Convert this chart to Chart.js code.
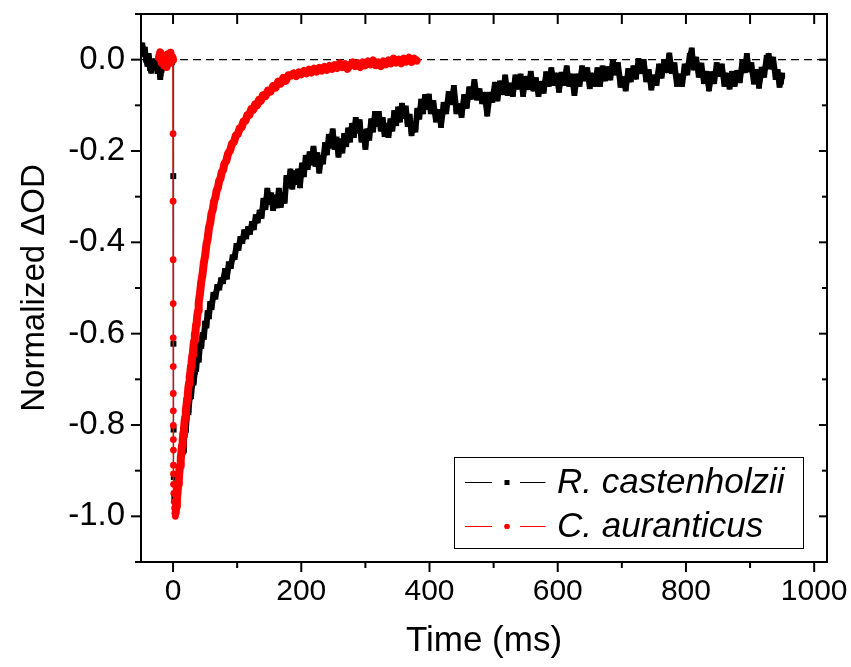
<!DOCTYPE html>
<html><head><meta charset="utf-8">
<script src="https://cdn.jsdelivr.net/npm/chart.js@4.4.1/dist/chart.umd.min.js"></script>
<style>html,body{margin:0;padding:0;background:#fff;}canvas{display:block;}</style>
</head><body>
<canvas id="c" width="851" height="667"></canvas>
<script>
// ---- data ----
const seriesNames = ['R. castenholzii', 'C. auranticus'];
const xTitle = 'Time (ms)';
const yTitle = 'Normalized \u0394OD';
const xRange = [-50, 1020];
const yRange = [-1.1, 0.1];
const xMajorTicks = [0, 200, 400, 600, 800, 1000];
const xTickLabels = ['0', '200', '400', '600', '800', '1000'];
const xMinorTicks = [100, 300, 500, 700, 900];
const yMajorTicks = [0, -0.2, -0.4, -0.6, -0.8, -1.0];
const yTickLabels = ['0.0', '-0.2', '-0.4', '-0.6', '-0.8', '-1.0'];
const yMinorTicks = [0.1, -0.1, -0.3, -0.5, -0.7, -0.9, -1.1];
const baselineValue = 0;
const flashWindow = [0, 4]; // ms: fast drop after the flash, drawn with thin line

// R. castenholzii [time ms, normalized dOD]
const castPoints = [
[-50,0.018],[-48,0.031],[-46,0.012],[-44,0.022],[-42,0.0],[-40,-0.009],[-38,0.008],[-36,-0.018],[-34,-0.024],[-32,-0.008],
[-30,-0.004],[-28,-0.016],[-26,-0.01],[-24,-0.025],[-22,-0.012],[-20,-0.038],[-18,-0.022],[-16,-0.014],[-14,-0.005],[-12,0.004],
[-10,-0.01],[-8,0.006],[-6,-0.004],[-4,0.008],[-2,-0.006],[0,0.0],[0.3,-0.255],[0.6,-0.622],[0.9,-0.81],[1.2,-0.914],
[2,-0.96],[3,-0.985],[4,-0.972],
[5,-0.948],[6,-0.942],[7,-0.923],[8,-0.922],[9,-0.893],[10,-0.912],[11,-0.878],[12,-0.877],[13,-0.868],[14,-0.862],
[15,-0.838],[16,-0.857],[17,-0.823],[18,-0.822],[19,-0.813],[20,-0.807],[22,-0.773],[24,-0.772],[26,-0.738],[28,-0.737],
[30,-0.708],[32,-0.707],[34,-0.683],[36,-0.677],[38,-0.648],[40,-0.657],[42,-0.625],[44,-0.627],[46,-0.603],[48,-0.607],
[50,-0.578],[52,-0.582],[54,-0.555],[56,-0.562],[58,-0.535],[60,-0.542],[63,-0.515],[66,-0.519],[69,-0.498],[72,-0.499],
[75,-0.483],[78,-0.485],[81,-0.463],[84,-0.475],[87,-0.448],[90,-0.452],[93,-0.433],[96,-0.432],[99,-0.408],[102,-0.412],
[105,-0.393],[108,-0.397],[111,-0.378],[114,-0.387],[117,-0.371],[120,-0.377],[123,-0.36],[126,-0.367],[129,-0.345],[132,-0.352],
[135,-0.335],[138,-0.342],[141,-0.309],[144,-0.323],[147,-0.287],[150,-0.311],[153,-0.297],[156,-0.325],[159,-0.302],[162,-0.319],
[165,-0.287],[168,-0.318],[171,-0.297],[174,-0.309],[177,-0.259],[180,-0.275],[183,-0.245],[186,-0.278],[189,-0.249],[192,-0.268],
[195,-0.245],[198,-0.275],[201,-0.232],[204,-0.251],[207,-0.215],[210,-0.235],[213,-0.207],[216,-0.225],[219,-0.195],[222,-0.228],
[225,-0.209],[228,-0.243],[231,-0.215],[234,-0.223],[237,-0.187],[240,-0.203],[243,-0.169],[246,-0.188],[249,-0.157],[252,-0.191],
[255,-0.175],[258,-0.208],[261,-0.179],[264,-0.199],[267,-0.167],[270,-0.185],[273,-0.155],[276,-0.175],[279,-0.145],[282,-0.165],
[285,-0.132],[288,-0.155],[291,-0.137],[294,-0.175],[297,-0.159],[300,-0.191],[303,-0.157],[306,-0.171],[309,-0.135],[312,-0.153],
[315,-0.119],[318,-0.141],[321,-0.119],[324,-0.151],[327,-0.132],[330,-0.163],[333,-0.145],[336,-0.165],[339,-0.135],[342,-0.151],
[345,-0.117],[348,-0.139],[351,-0.109],[354,-0.131],[357,-0.101],[360,-0.123],[363,-0.107],[366,-0.141],[369,-0.125],[372,-0.161],
[375,-0.142],[378,-0.153],[381,-0.112],[384,-0.125],[387,-0.092],[390,-0.113],[393,-0.082],[396,-0.103],[399,-0.081],[402,-0.113],
[406,-0.095],[410,-0.131],[414,-0.115],[418,-0.143],[422,-0.099],[426,-0.113],[430,-0.075],[434,-0.093],[438,-0.062],[442,-0.113],
[446,-0.102],[450,-0.121],[454,-0.082],[458,-0.101],[462,-0.065],[466,-0.081],[470,-0.049],[474,-0.083],[478,-0.069],[482,-0.091],
[486,-0.077],[490,-0.118],[494,-0.077],[498,-0.088],[502,-0.055],[506,-0.085],[510,-0.052],[514,-0.071],[518,-0.039],[522,-0.073],
[526,-0.057],[530,-0.075],[534,-0.039],[538,-0.059],[542,-0.037],[546,-0.075],[550,-0.042],[554,-0.06],[558,-0.031],[562,-0.063],
[566,-0.045],[570,-0.075],[574,-0.053],[578,-0.068],[582,-0.032],[586,-0.053],[590,-0.023],[594,-0.051],[598,-0.035],[602,-0.066],
[606,-0.033],[610,-0.051],[614,-0.019],[618,-0.053],[622,-0.037],[626,-0.073],[630,-0.037],[634,-0.053],[638,-0.019],[642,-0.041],
[646,-0.023],[650,-0.058],[654,-0.035],[658,-0.053],[662,-0.023],[666,-0.053],[670,-0.019],[674,-0.041],[678,-0.021],[682,-0.039],
[686,-0.005],[690,-0.028],[694,-0.012],[698,-0.055],[702,-0.043],[706,-0.063],[710,-0.025],[714,-0.043],[718,-0.019],[722,-0.037],
[726,-0.003],[730,-0.025],[734,-0.005],[738,-0.043],[742,-0.027],[746,-0.061],[750,-0.039],[754,-0.051],[758,-0.015],[762,-0.035],
[766,-0.005],[770,-0.023],[774,0.009],[778,-0.025],[782,-0.012],[786,-0.053],[790,-0.037],[794,-0.053],[798,-0.015],[802,-0.028],
[806,0.008],[809,0.02],[812,-0.017],[816,0.0],[820,-0.033],[824,-0.013],[828,-0.047],[832,-0.031],[836,-0.063],[840,-0.032],
[844,-0.047],[848,-0.012],[852,-0.031],[856,-0.015],[860,-0.053],[864,-0.035],[868,-0.059],[872,-0.031],[876,-0.053],[880,-0.029],
[884,-0.045],[888,-0.007],[892,-0.023],[895,0.008],[898,-0.021],[902,-0.012],[906,-0.048],[910,-0.027],[914,-0.057],[918,-0.022],
[922,-0.033],[926,0.004],[929,0.008],[932,-0.015],[936,0.0],[940,-0.038],[943,-0.027],[946,-0.055],[948,-0.048],[950,-0.035]
];

// C. auranticus [time ms, normalized dOD]
const aurPoints = [
[-22,0.005],[-20,0.016],[-18,-0.006],[-16,0.01],[-14,-0.012],[-12,0.008],[-10,-0.016],[-8,0.012],[-6,-0.008],[-4,0.015],
[-2,-0.004],[-1,0.006],[0,0.0],[0.05,-0.162],[0.1,-0.31],[0.15,-0.438],[0.2,-0.534],[0.25,-0.609],[0.3,-0.672],[0.35,-0.731],
[0.4,-0.769],[0.45,-0.801],[0.5,-0.832],[0.55,-0.855],[0.6,-0.888],[0.7,-0.907],[0.8,-0.93],[1.2,-0.95],[1.8,-0.968],[2.4,-0.982],
[3,-0.993],[3.6,-1.0],[4.2,-0.992],
[5,-0.978],[6,-0.962],[7,-0.948],[8,-0.93],[9,-0.918],[10,-0.9],[11,-0.889],[12,-0.872],[13,-0.861],[14,-0.845],
[15,-0.834],[16,-0.818],[17,-0.808],[18,-0.792],[19,-0.783],[20,-0.766],[21,-0.757],[22,-0.742],[23,-0.733],[24,-0.717],
[25,-0.708],[26,-0.694],[27,-0.684],[28,-0.671],[29,-0.662],[30,-0.648],[31,-0.639],[32,-0.625],[33,-0.616],[34,-0.602],
[35,-0.594],[36,-0.58],[37,-0.572],[38,-0.558],[39,-0.55],[40,-0.532],[42,-0.512],[44,-0.486],[46,-0.47],[48,-0.445],
[50,-0.43],[52,-0.405],[54,-0.392],[56,-0.368],[58,-0.357],[60,-0.337],[62,-0.328],[64,-0.31],[66,-0.302],[68,-0.286],
[70,-0.28],[72,-0.265],[74,-0.26],[76,-0.246],[78,-0.242],[80,-0.228],[83,-0.222],[86,-0.205],[89,-0.199],[92,-0.184],
[95,-0.18],[98,-0.166],[101,-0.163],[104,-0.15],[107,-0.148],[110,-0.135],[113,-0.134],[116,-0.121],[119,-0.121],[122,-0.108],
[125,-0.11],[128,-0.098],[131,-0.1],[134,-0.088],[137,-0.09],[140,-0.078],[144,-0.08],[148,-0.068],[152,-0.07],[156,-0.058],
[160,-0.061],[164,-0.048],[168,-0.052],[172,-0.04],[176,-0.046],[180,-0.034],[184,-0.035],[188,-0.03],[192,-0.036],[196,-0.028],
[200,-0.032],[204,-0.025],[208,-0.03],[212,-0.022],[216,-0.028],[220,-0.02],[224,-0.026],[228,-0.018],[232,-0.024],[236,-0.016],
[240,-0.022],[244,-0.014],[248,-0.02],[252,-0.012],[256,-0.018],[260,-0.008],[264,-0.016],[268,-0.01],[272,-0.02],[276,-0.012],
[280,-0.006],[284,-0.014],[288,-0.008],[292,-0.016],[296,-0.006],[300,-0.012],[304,-0.004],[308,-0.01],[312,-0.002],[316,-0.012],
[320,-0.006],[324,-0.014],[328,-0.004],[332,-0.01],[336,-0.002],[340,-0.008],[344,0.002],[348,-0.006],[352,0.0],[356,-0.008],
[360,0.002],[364,-0.004],[368,0.004],[372,-0.005],[376,0.002],[380,-0.002]
];

// ---- rendering ----
const FONT = "'Liberation Sans', Arial, Helvetica, sans-serif";
const toXY = pts => pts.map(p => ({x: p[0], y: p[1]}));
// dense noisy traces: segments outside the fast flash drop are drawn as a heavy band
const bandWidth = w => ctx => {
  const x0 = ctx.p0.parsed.x, x1 = ctx.p1.parsed.x;
  return (x1 <= flashWindow[0] || x0 >= flashWindow[1]) ? w : 1.2;
};

const frameTicksPlugin = {
  id: 'frameTicks',
  afterDatasetsDraw(chart) {
    const ctx = chart.ctx, a = chart.chartArea;
    const xs = chart.scales.x, ys = chart.scales.y;
    ctx.save();
    ctx.strokeStyle = '#000';
    ctx.lineWidth = 2;
    ctx.lineCap = 'butt';
    const seg = (x1, y1, x2, y2) => { ctx.beginPath(); ctx.moveTo(x1, y1); ctx.lineTo(x2, y2); ctx.stroke(); };
    xMajorTicks.forEach(v => { const p = xs.getPixelForValue(v); seg(p, a.bottom, p, a.bottom + 10); seg(p, a.top, p, a.top + 10); });
    xMinorTicks.forEach(v => { const p = xs.getPixelForValue(v); seg(p, a.bottom, p, a.bottom + 6); seg(p, a.top, p, a.top + 10); });
    yMajorTicks.forEach(v => { const p = ys.getPixelForValue(v); seg(a.left, p, a.left - 10, p); seg(a.right, p, a.right - 8, p); });
    yMinorTicks.forEach(v => { const p = ys.getPixelForValue(v); seg(a.left, p, a.left - 6, p); seg(a.right, p, a.right - 5, p); });
    ctx.strokeRect(a.left, a.top, a.right - a.left, a.bottom - a.top);
    ctx.restore();
  },
  afterDraw(chart) {
    const ctx = chart.ctx;
    const box = {x: 454.5, y: 457.5, w: 349, h: 91};
    ctx.save();
    ctx.fillStyle = '#fff';
    ctx.fillRect(box.x, box.y, box.w, box.h);
    ctx.strokeStyle = '#000';
    ctx.lineWidth = 1;
    ctx.strokeRect(box.x, box.y, box.w, box.h);
    const rows = [482.5, 526.5];
    chart.data.datasets.filter(d => seriesNames.includes(d.label))
      .sort((p, q) => seriesNames.indexOf(p.label) - seriesNames.indexOf(q.label))
      .forEach((d, i) => {
        const y = rows[i];
        ctx.strokeStyle = d.borderColor;
        ctx.lineWidth = 1;
        ctx.beginPath(); ctx.moveTo(465, y); ctx.lineTo(492, y); ctx.stroke();
        ctx.beginPath(); ctx.moveTo(520, y); ctx.lineTo(545.5, y); ctx.stroke();
        ctx.fillStyle = d.backgroundColor;
        if (d.pointStyle === 'rect') {
          ctx.fillRect(507 - 2.5, y - 2.5, 5, 5);
        } else {
          ctx.beginPath(); ctx.arc(507, y, 2.8, 0, Math.PI * 2); ctx.fill();
        }
        ctx.fillStyle = '#000';
        ctx.font = "italic 35px " + FONT;
        ctx.textBaseline = 'middle';
        ctx.textAlign = 'left';
        ctx.fillText(d.label, 557, y + 1);
      });
    ctx.restore();
  }
};

new Chart(document.getElementById('c'), {
  type: 'scatter',
  data: {
    datasets: [
      {label: seriesNames[1], data: toXY(aurPoints), showLine: true, borderColor: '#ff0000', backgroundColor: '#ff0000',
       borderWidth: 1.2, borderJoinStyle: 'round', borderCapStyle: 'round', segment: {borderWidth: bandWidth(8)},
       pointStyle: 'circle', pointRadius: 3.4, pointBorderWidth: 0, pointHoverRadius: 0, order: 0},
      {label: seriesNames[0], data: toXY(castPoints), showLine: true, borderColor: '#000000', backgroundColor: '#000000',
       borderWidth: 1.2, borderJoinStyle: 'round', borderCapStyle: 'round', segment: {borderWidth: bandWidth(6)},
       pointStyle: 'rect', pointRadius: 4.2, pointBorderWidth: 0, pointHoverRadius: 0, order: 1},
      {label: 'baseline', data: [{x: xRange[0], y: baselineValue}, {x: xRange[1], y: baselineValue}], showLine: true,
       borderColor: '#000', borderWidth: 1.3, borderDash: [8, 5], pointRadius: 0, order: 2}
    ]
  },
  options: {
    responsive: false,
    animation: false,
    devicePixelRatio: 1,
    layout: {padding: {left: 0, top: 14, right: 24, bottom: 0}},
    plugins: {legend: {display: false}, tooltip: {enabled: false}},
    scales: {
      x: {
        type: 'linear', min: xRange[0], max: xRange[1],
        afterBuildTicks: s => { s.ticks = xMajorTicks.map(v => ({value: v})); },
        afterFit: s => { s.height = 105; s.paddingLeft = 0; s.paddingRight = 0; },
        grid: {display: false, drawTicks: false},
        border: {display: false},
        ticks: {color: '#000', font: {family: FONT, size: 30}, padding: 12, maxRotation: 0, autoSkip: false,
                callback: (v, i) => xTickLabels[i]},
        title: {display: true, text: xTitle, color: '#000', font: {family: FONT, size: 35}, padding: {top: 0, bottom: 5}}
      },
      y: {
        type: 'linear', min: yRange[0], max: yRange[1],
        afterBuildTicks: s => { s.ticks = yMajorTicks.map(v => ({value: v})); },
        afterFit: s => { s.width = 141; s.paddingTop = 0; s.paddingBottom = 0; },
        grid: {display: false, drawTicks: false},
        border: {display: false},
        ticks: {color: '#000', font: {family: FONT, size: 33}, padding: 16, autoSkip: false,
                callback: (v, i) => yTickLabels[i]},
        title: {display: true, text: yTitle, color: '#000', font: {family: FONT, size: 33}, padding: {top: 15, bottom: 0}}
      }
    }
  },
  plugins: [frameTicksPlugin]
});
</script>
</body></html>
